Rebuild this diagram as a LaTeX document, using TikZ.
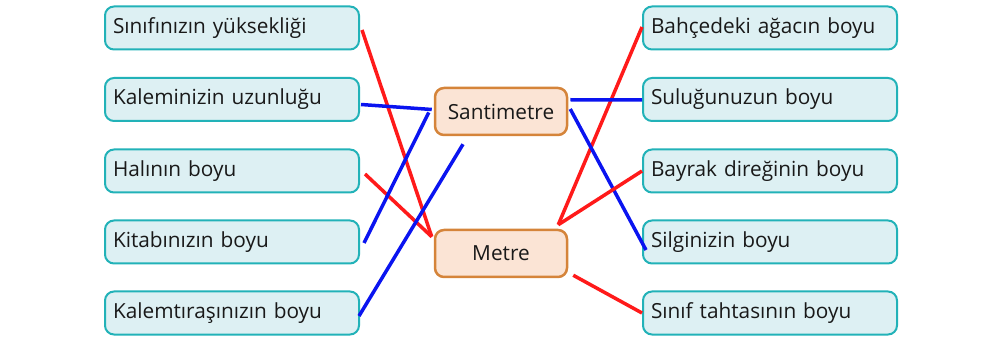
\documentclass[tikz,border=0pt]{standalone}
\usepackage{fontspec}
\setmainfont{Open Sans}
\usetikzlibrary{positioning}
\definecolor{boxfill}{HTML}{DDF0F3}
\definecolor{boxline}{HTML}{22B2B8}
\definecolor{unitfill}{HTML}{FBE4D5}
\definecolor{unitline}{HTML}{D5843A}
\definecolor{linkred}{HTML}{FF1A1A}
\definecolor{linkblue}{HTML}{0A14F0}
\tikzset{
  item/.style={draw=boxline, fill=boxfill, line width=2pt, rounded corners=9pt,
    text width=238pt, inner xsep=8pt, minimum height=43pt, align=left,
    font=\fontsize{20.8}{24}\selectfont, text=black!90},
  unit/.style={draw=unitline, fill=unitfill, line width=2.5pt, rounded corners=9pt,
    minimum width=132pt, minimum height=47pt,
    font=\fontsize{20.8}{24}\selectfont, text=black!90},
  redlink/.style={linkred, line width=3.5pt},
  bluelink/.style={linkblue, line width=3.5pt}
}
\begin{document}
\begin{tikzpicture}[x=1pt, y=-1pt]
  \useasboundingbox (0,0) rectangle (1000,352);
  % left column
  \node[item] (l1) at (232,28) {Sınıfınızın yüksekliği};
  \node[item] (l2) at (232,99.5) {Kaleminizin uzunluğu};
  \node[item] (l3) at (232,171) {Halının boyu};
  \node[item] (l4) at (232,242) {Kitabınızın boyu};
  \node[item] (l5) at (232,313) {Kalemtıraşınızın boyu};
  % units
  \node[unit] (santi) at (501,111.5) {Santimetre};
  \node[unit] (metre) at (501,253.5) {Metre};
  % right column
  \node[item] (r1) at (770,28) {Bahçedeki ağacın boyu};
  \node[item] (r2) at (770,99.5) {Suluğunuzun boyu};
  \node[item] (r3) at (770,171) {Bayrak direğinin boyu};
  \node[item] (r4) at (770,242) {Silginizin boyu};
  \node[item] (r5) at (770,313) {Sınıf tahtasının boyu};
  % answers, left
  \draw[redlink] ([xshift=2pt,yshift=-2pt]l1.east) -- ([xshift=-2pt,yshift=-8pt]metre.north west);
  \draw[bluelink] ([xshift=1pt,yshift=-5pt]l2.east) -- ([xshift=-2pt,yshift=2pt]santi.west);
  \draw[redlink] ([xshift=5pt,yshift=-3pt]l3.east) -- ([xshift=-2pt,yshift=-8pt]metre.north west);
  \draw[bluelink] ([xshift=4pt,yshift=-1pt]l4.east) -- ([xshift=-5pt,yshift=-1pt]santi.west);
  \draw[bluelink] ([xshift=-1pt,yshift=-3pt]l5.east) -- ([xshift=-38pt,yshift=-8pt]santi.south);
  % answers, right
  \draw[redlink] ([xshift=-10pt,yshift=4pt]metre.north east) -- ([yshift=1pt]r1.west);
  \draw[bluelink] ([xshift=2pt,yshift=-13pt]santi.north east) -- ([yshift=-0.5pt]r2.west);
  \draw[bluelink] ([xshift=2pt,yshift=2.5pt]santi.east) -- ([xshift=4pt,yshift=-8pt]r4.west);
  \draw[redlink] ([xshift=-10pt,yshift=4pt]metre.north east) -- (r3.west);
  \draw[redlink] ([xshift=5pt,yshift=3pt]metre.south east) -- (r5.west);
\end{tikzpicture}
\end{document}
